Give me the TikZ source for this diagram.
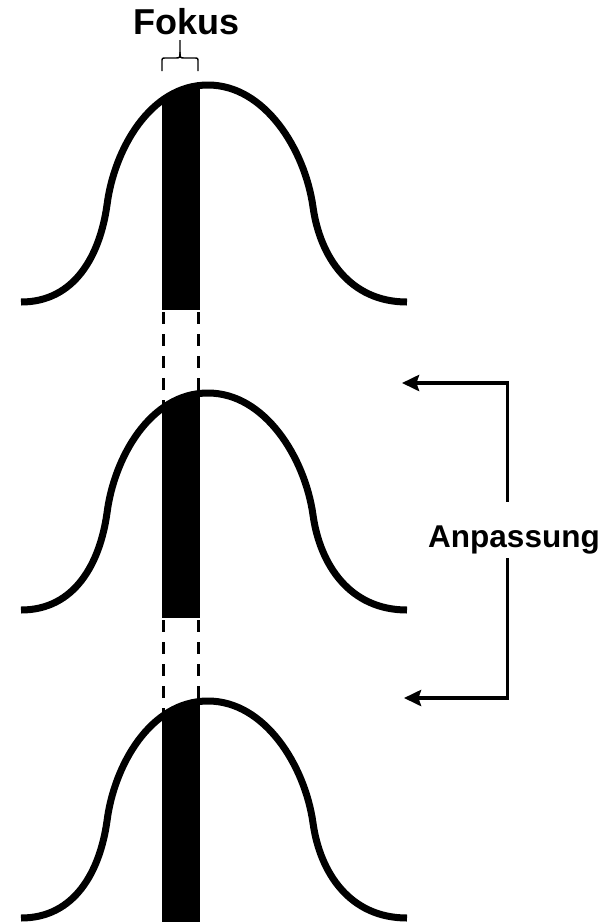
\documentclass[tikz,border=0pt]{standalone}
\usepackage{fontspec}
\setmainfont{Liberation Sans}
\usetikzlibrary{arrows.meta}
\begin{document}
\begin{tikzpicture}[x=1pt,y=-1pt,
  bell/.style={line width=7pt},
  focusbar/.style={fill=black},
  guide/.style={line width=3.4pt, dash pattern=on 12pt off 10pt, dash phase=-2pt},
  adjust/.style={line width=3.6pt, miter limit=10},
  bracestyle/.style={line width=1.4pt},
  bigtitle/.style={font=\bfseries\fontsize{36}{40}\selectfont, inner sep=0pt},
  sidelabel/.style={font=\bfseries\fontsize{31.5}{36}\selectfont, inner sep=0pt}
]
\useasboundingbox (0,0) rectangle (603,922);

% dashed guides between the bars
\foreach \dy in {0,308} {
  \coordinate (gla) at (163.5,310+\dy);
  \coordinate (glb) at (163.5,410+\dy);
  \coordinate (gra) at (198.5,310+\dy);
  \coordinate (grb) at (198.5,400+\dy);
  \draw[guide] (gla) -- (glb);
  \draw[guide] (gra) -- (grb);
}

% three bell curves with focus bars
\foreach \dy in {0,308,616} {
  \begin{scope}[yshift=-\dy pt]
    \begin{scope}
      \clip (21,302) .. controls (75,302) and (100,255) .. (107,205)
        .. controls (114,150) and (150,85) .. (208,85)
        .. controls (265,85) and (305,150) .. (313,207)
        .. controls (320,257) and (350,302) .. (407,302)
        -- (407,340) -- (21,340) -- cycle;
      \fill[focusbar] (162,70) rectangle (200,310);
    \end{scope}
    \draw[bell] (21,302) .. controls (75,302) and (100,255) .. (107,205)
        .. controls (114,150) and (150,85) .. (208,85)
        .. controls (265,85) and (305,150) .. (313,207)
        .. controls (320,257) and (350,302) .. (407,302);
  \end{scope}
}

% Fokus label and brace
\node[bigtitle, anchor=base] (fokus) at (186.5,34) {Fokus};
\coordinate (bl) at (162,71);
\coordinate (br) at (198,71);
\coordinate (bt) at (180,40);
\draw[bracestyle] (bl) -- (162,62) .. controls (162,58) .. (166,58) -- (175,58)
  .. controls (180,58) .. (180,52) -- (bt);
\draw[bracestyle] (br) -- (198,62) .. controls (198,58) .. (194,58) -- (185,58)
  .. controls (180,58) .. (180,52);

% Anpassung arrows
\node[sidelabel, anchor=base] (anp) at (514,547) {Anpassung};
\coordinate (tipA) at (402,383);
\coordinate (cornA) at (507.5,383);
\coordinate (gapA) at (507.5,502);
\coordinate (gapB) at (507.5,558);
\coordinate (cornB) at (507.5,698);
\coordinate (tipB) at (404,698);
\draw[adjust, {Stealth[length=17pt,width=16pt,inset=2.5pt]}-] (tipA) -- (cornA) -- (gapA);
\draw[adjust, -{Stealth[length=17pt,width=16pt,inset=2.5pt]}] (gapB) -- (cornB) -- (tipB);
\end{tikzpicture}
\end{document}
